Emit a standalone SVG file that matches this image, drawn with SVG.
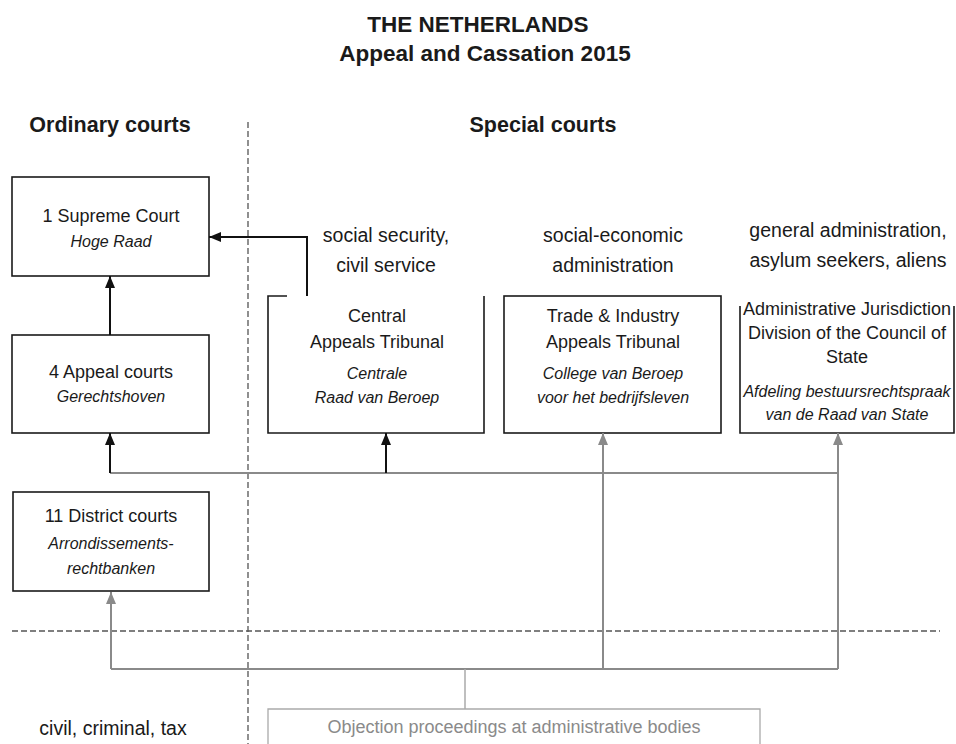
<svg xmlns="http://www.w3.org/2000/svg" width="956" height="744" viewBox="0 0 956 744">
<defs>
<style>
text{font-family:"Liberation Sans",Arial,sans-serif;fill:#1a1a1a;text-anchor:middle}
.t{font-size:22.5px;font-weight:bold}
.h{font-size:21.5px;font-weight:bold}
.l{font-size:19.5px}
.n{font-size:18px}
.i{font-size:16px;font-style:italic}
.box{fill:none;stroke:#1a1a1a;stroke-width:1.6}
.blk{fill:none;stroke:#111;stroke-width:2}
.gry{fill:none;stroke:#8a8a8a;stroke-width:2}
.dash{fill:none;stroke:#555;stroke-width:1.3;stroke-dasharray:6,3}
</style>
<marker id="ab" viewBox="0 0 12 10" refX="12" refY="5" markerWidth="12" markerHeight="10" markerUnits="userSpaceOnUse" orient="auto"><path d="M0,0 L12,5 L0,10 z" fill="#111"/></marker>
<marker id="ag" viewBox="0 0 12 10" refX="12" refY="5" markerWidth="12" markerHeight="10" markerUnits="userSpaceOnUse" orient="auto"><path d="M0,0 L12,5 L0,10 z" fill="#8a8a8a"/></marker>
</defs>
<rect width="956" height="744" fill="#fff"/>
<g id="titles">
<text class="t" x="478" y="32">THE NETHERLANDS</text>
<text class="t" x="485" y="61">Appeal and Cassation 2015</text>
<text class="h" x="110" y="132">Ordinary courts</text>
<text class="h" x="543" y="132">Special courts</text>
</g>
<g id="dividers">
<line class="dash" x1="248" y1="122" x2="248" y2="744"/>
<line class="dash" x1="12" y1="631" x2="940" y2="631"/>
</g>
<g id="labels">
<text class="l" x="386" y="242">social security,</text>
<text class="l" x="386" y="272">civil service</text>
<text class="l" x="613" y="242">social-economic</text>
<text class="l" x="613" y="272">administration</text>
<text class="l" x="848" y="237">general administration,</text>
<text class="l" x="848" y="267">asylum seekers, aliens</text>
<text class="l" x="113" y="735">civil, criminal, tax</text>
</g>
<g id="supreme">
<rect class="box" x="12" y="177" width="197" height="99"/>
<text class="n" x="111" y="222">1 Supreme Court</text>
<text class="i" x="111" y="247">Hoge Raad</text>
</g>
<g id="appeal">
<rect class="box" x="12" y="335" width="197" height="98"/>
<text class="n" x="111" y="378">4 Appeal courts</text>
<text class="i" x="111" y="402">Gerechtshoven</text>
</g>
<g id="district">
<rect class="box" x="13" y="492" width="196" height="99"/>
<text class="n" x="111" y="522">11 District courts</text>
<text class="i" x="111" y="549">Arrondissements-</text>
<text class="i" x="111" y="574">rechtbanken</text>
</g>
<g id="central">
<path class="box" d="M287,296 H268 V433 H484 V296"/>
<text class="n" x="377" y="322">Central</text>
<text class="n" x="377" y="348">Appeals Tribunal</text>
<text class="i" x="377" y="379">Centrale</text>
<text class="i" x="377" y="403">Raad van Beroep</text>
</g>
<g id="trade">
<rect class="box" x="504" y="296" width="217" height="137"/>
<text class="n" x="613" y="322">Trade &amp; Industry</text>
<text class="n" x="613" y="348">Appeals Tribunal</text>
<text class="i" x="613" y="379">College van Beroep</text>
<text class="i" x="613" y="403">voor het bedrijfsleven</text>
</g>
<g id="council">
<path class="box" d="M740,306 V433 H954 V306"/>
<text class="n" x="847" y="315">Administrative Jurisdiction</text>
<text class="n" x="847" y="339">Division of the Council of</text>
<text class="n" x="847" y="363">State</text>
<text class="i" x="847" y="397">Afdeling bestuursrechtspraak</text>
<text class="i" x="847" y="420">van de Raad van State</text>
</g>
<g id="objection">
<path d="M268,744 V709 H760 V744" fill="none" stroke="#aaa" stroke-width="1.3"/>
<text x="514" y="733" style="font-size:18px;fill:#8a8a8a">Objection proceedings at administrative bodies</text>
</g>
<g id="connectors">
<path class="blk" d="M307,296 V237 H209" marker-end="url(#ab)"/>
<path class="blk" d="M110,335 V276" marker-end="url(#ab)"/>
<path class="gry" d="M110,473 H838"/>
<path class="blk" d="M110,473 V433" marker-end="url(#ab)"/>
<path class="blk" d="M386,473 V433" marker-end="url(#ab)"/>
<path class="gry" d="M111,669 H838"/>
<path class="gry" d="M603,669 V433" marker-end="url(#ag)"/>
<path class="gry" d="M838,669 V433" marker-end="url(#ag)"/>
<path class="gry" d="M111,669 V592" marker-end="url(#ag)"/>
<path d="M465,669 V709" fill="none" stroke="#aaa" stroke-width="1.5"/>
</g>
</svg>
